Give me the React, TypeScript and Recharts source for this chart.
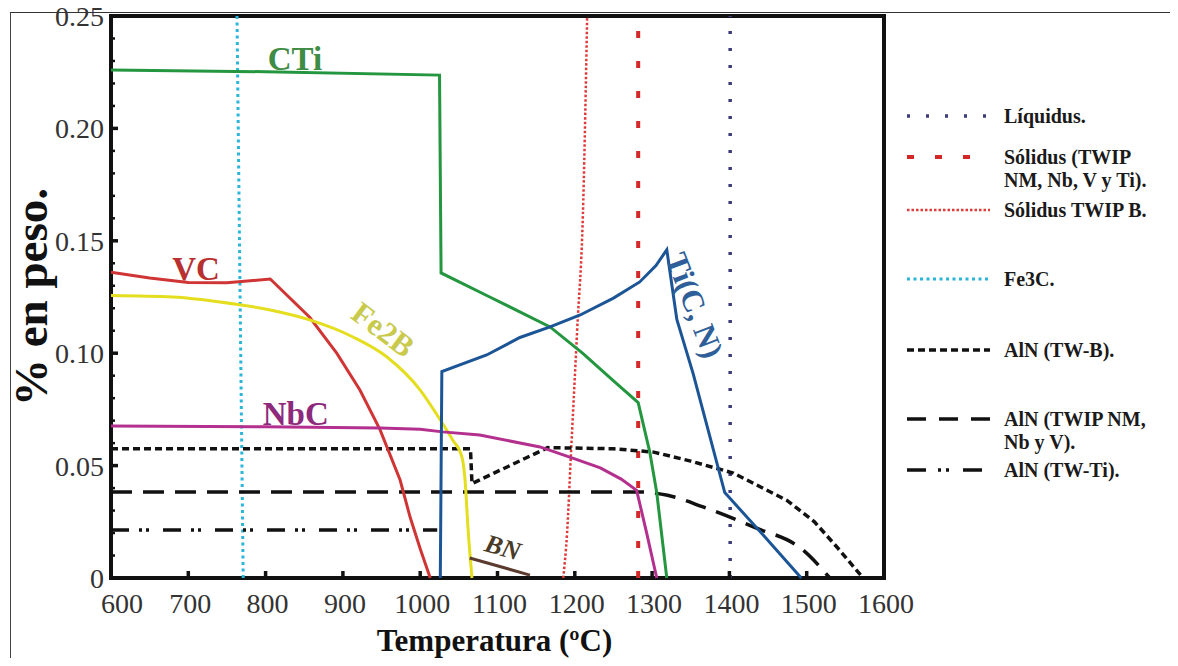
import React from 'react';
import {
  LineChart,
  Line,
  XAxis,
  YAxis,
  ReferenceLine,
  ReferenceArea,
  ReferenceDot,
} from 'recharts';

type Pt = [number, number];

// axis ticks
const xTicks = [600, 700, 800, 900, 1000, 1100, 1200, 1300, 1400, 1500, 1600];
const yTicks = [
  0, 0.01, 0.02, 0.03, 0.04, 0.05, 0.06, 0.07, 0.08, 0.09, 0.1, 0.11, 0.12, 0.13,
  0.14, 0.15, 0.16, 0.17, 0.18, 0.19, 0.2, 0.21, 0.22, 0.23, 0.24, 0.25,
];

// phase curves: [temperature ºC, % en peso]
const cti: Pt[] = [
  [600, 0.226], [800, 0.2252], [1025, 0.2237], [1027, 0.1357], [1090, 0.125],
  [1168, 0.1117], [1210, 0.1], [1249, 0.088], [1282, 0.078], [1297, 0.056],
  [1306, 0.038], [1319, 0],
];
const vc: Pt[] = [
  [600, 0.136], [650, 0.1335], [700, 0.1315], [750, 0.1313], [806, 0.133],
  [857, 0.116], [892, 0.1], [922, 0.0836], [948, 0.066], [974, 0.0436],
  [987, 0.027], [1000, 0.013], [1013, 0],
];
const fe2b: Pt[] = [
  [600, 0.1257], [680, 0.125], [741, 0.1228], [806, 0.1192], [857, 0.1148],
  [913, 0.1072], [957, 0.0983], [1000, 0.0836], [1026, 0.0703], [1042, 0.0614],
  [1054, 0.0538], [1058, 0.0436], [1062, 0.0214], [1067, 0],
];
const nbc: Pt[] = [
  [600, 0.0676], [800, 0.0673], [948, 0.0667], [1000, 0.0662], [1029, 0.065],
  [1077, 0.0636], [1155, 0.0583], [1200, 0.053], [1233, 0.049], [1260, 0.044],
  [1280, 0.039], [1293, 0.02], [1306, 0],
];
const ticn: Pt[] = [
  [1026, 0], [1028, 0.0918], [1086, 0.0992], [1129, 0.107], [1168, 0.1117],
  [1207, 0.117], [1250, 0.1245], [1284, 0.1317], [1305, 0.139], [1319, 0.146],
  [1332, 0.115], [1353, 0.091], [1394, 0.038], [1444, 0.019], [1493, 0],
];
const bn: Pt[] = [[1064, 0.0089], [1142, 0.0013]];
const alnTwB: Pt[] = [
  [600, 0.0575], [1065, 0.0575], [1067, 0.042], [1165, 0.058], [1250, 0.0575],
  [1302, 0.056], [1350, 0.052], [1405, 0.0467], [1474, 0.0346], [1510, 0.025],
  [1539, 0.0138], [1573, 0],
];
const alnNm: Pt[] = [
  [600, 0.0383], [1280, 0.0383], [1320, 0.0368], [1366, 0.0316], [1431, 0.0227],
  [1495, 0.0125], [1530, 0],
];
const alnTi: Pt[] = [[600, 0.0214], [1022, 0.0214]];

// transformation lines
const fe3c: Pt[] = [[771, 0], [763, 0.25]];
const solidusB: Pt[] = [[1185, 0], [1190, 0.02], [1195, 0.055], [1203, 0.11], [1211, 0.168], [1216, 0.25]];
const solidusT = 1282;
const liquidusT = 1401;

// curve labels
const curveLabels: { text: string; t: number; y: number; angle: number; color: string; size: number }[] = [
  { text: 'CTi', t: 838, y: 0.2309, angle: 0, color: '#3f8c45', size: 33 },
  { text: 'VC', t: 710, y: 0.1375, angle: 0, color: '#b8302f', size: 33 },
  { text: 'NbC', t: 839, y: 0.0728, angle: 0, color: '#8d2a7c', size: 33 },
  { text: 'Fe2B', t: 952, y: 0.1105, angle: 37, color: '#c9c94c', size: 31 },
  { text: 'Ti(C, N)', t: 1355, y: 0.1214, angle: 69, color: '#2e5f99', size: 31 },
  { text: 'BN', t: 1107, y: 0.0135, angle: 16, color: '#4a3a28', size: 26 },
];

const COLORS = {
  cti: '#23963f',
  vc: '#d03535',
  fe2b: '#e4de1e',
  nbc: '#b3308e',
  ticn: '#1c5596',
  bn: '#5b3b2e',
  black: '#111',
  cyan: '#2bb5d8',
  red: '#d42828',
  redDot: '#e03a3a',
  navy: '#3c3c7c',
};

const DASH = {
  liquidus: '3 14',
  solidus: '7 23',
  solidusB: '2.5 2',
  fe3c: '3 3.5',
  twB: '7 4',
  nm: '21 11',
  ti: '18 10 3 4 3 14',
};

const legendItems = [
  { lines: ['Líquidus.'], color: COLORS.navy, dash: '3 16', width: 3.5, y: 116 },
  { lines: ['Sólidus (TWIP', 'NM, Nb, V y Ti).'], color: COLORS.red, dash: '7 21', width: 4, y: 157 },
  { lines: ['Sólidus TWIP B.'], color: COLORS.redDot, dash: DASH.solidusB, width: 2.5, y: 210 },
  { lines: ['Fe3C.'], color: COLORS.cyan, dash: DASH.fe3c, width: 3, y: 279 },
  { lines: ['AlN (TW-B).'], color: COLORS.black, dash: DASH.twB, width: 3.5, y: 350 },
  { lines: ['AlN (TWIP NM,', 'Nb y V).'], color: COLORS.black, dash: '19 13', width: 3.5, y: 419 },
  { lines: ['AlN (TW-Ti).'], color: COLORS.black, dash: '19 12 3 5 3 14', width: 3.5, y: 470 },
];

const FONT = '"Liberation Serif", "Times New Roman", Times, serif';
const toRows = (pts: Pt[]) => pts.map(([t, y]) => ({ t, y }));

const YTick = (props: any) => {
  const { x, y, payload } = props;
  const v: number = payload.value;
  const major = Math.round(v * 100) % 5 === 0;
  return (
    <g>
      <line x1={x} x2={x + (major ? 7 : 4)} y1={y} y2={y} stroke={COLORS.black} strokeWidth={major ? 3.5 : 2.5} />
      {major && (
        <text
          x={x - 7}
          y={y}
          dy="0.36em"
          textAnchor="end"
          fill="#333"
          style={{ fontFamily: FONT, fontSize: 28 }}
        >
          {v === 0 ? '0' : v.toFixed(2)}
        </text>
      )}
    </g>
  );
};

const XTick = (props: any) => {
  const { x, y, payload } = props;
  const v: number = payload.value;
  return (
    <g>
      <line x1={x} x2={x} y1={y} y2={y - 7} stroke={COLORS.black} strokeWidth={3.5} />
      <text
        x={x + (v === 600 ? 11 : 2)}
        y={y + 35}
        textAnchor="middle"
        fill="#333"
        style={{ fontFamily: FONT, fontSize: 28 }}
      >
        {v}
      </text>
    </g>
  );
};

function Legend() {
  return (
    <svg width={283} height={520} style={{ position: 'absolute', left: 895, top: 0 }}>
      {legendItems.map((it) => (
        <g key={it.lines[0]}>
          <line
            x1={12}
            x2={95}
            y1={it.y}
            y2={it.y}
            stroke={it.color}
            strokeWidth={it.width}
            strokeDasharray={it.dash}
          />
          {it.lines.map((ln, i) => (
            <text
              key={ln}
              x={109}
              y={it.y + i * 23}
              dy="0.35em"
              fill="#1a1a1a"
              style={{ fontFamily: FONT, fontSize: 20, fontWeight: 'bold' }}
            >
              {ln}
            </text>
          ))}
        </g>
      ))}
    </svg>
  );
}

export default function App() {
  return (
    <div style={{ position: 'relative', width: 1178, height: 666, margin: '-8px 0 -8px -8px' }}>
      <div
        style={{
          position: 'absolute',
          left: 10,
          top: 12,
          width: 1162,
          height: 654,
          borderTop: '1.5px solid #333',
          borderLeft: '1.5px solid #444',
        }}
      />
      <LineChart
        width={1178}
        height={666}
        margin={{ top: 16, right: 294, bottom: 0, left: 0 }}
        style={{ fontFamily: FONT }}
      >
        <XAxis
          type="number"
          dataKey="t"
          domain={[600, 1600]}
          ticks={xTicks}
          interval={0}
          tickLine={false}
          axisLine={false}
          tickSize={0}
          tickMargin={0}
          height={88}
          tick={<XTick />}
          label={{
            content: (p: any) => {
              const vb = p.viewBox || { x: 111, y: 578, width: 773 };
              return (
                <text
                  x={vb.x + vb.width / 2 - 3}
                  y={vb.y + 73}
                  textAnchor="middle"
                  fill="#111"
                  style={{ fontFamily: FONT, fontSize: 31, fontWeight: 'bold' }}
                >
                  Temperatura (ºC)
                </text>
              );
            },
          }}
        />
        <YAxis
          type="number"
          dataKey="y"
          domain={[0, 0.25]}
          ticks={yTicks}
          interval={0}
          tickLine={false}
          axisLine={false}
          tickSize={0}
          tickMargin={0}
          width={111}
          tick={<YTick />}
          label={{
            content: (p: any) => {
              const vb = p.viewBox || { x: 0, y: 16, height: 562 };
              const cx = vb.x + 31;
              const cy = vb.y + vb.height / 2;
              return (
                <text
                  x={cx}
                  y={cy}
                  transform={`rotate(-90 ${cx} ${cy})`}
                  textAnchor="middle"
                  dominantBaseline="central"
                  fill="#111"
                  style={{ fontFamily: FONT, fontSize: 47, fontWeight: 'bold' }}
                >
                  % en peso.
                </text>
              );
            },
          }}
        />

        <ReferenceLine x={liquidusT} stroke={COLORS.navy} strokeWidth={3.5} strokeDasharray={DASH.liquidus} />
        <ReferenceLine x={solidusT} stroke={COLORS.red} strokeWidth={4} strokeDasharray={DASH.solidus} />
        <Line data={toRows(fe3c)} dataKey="y" type="linear" stroke={COLORS.cyan} strokeWidth={3} strokeDasharray={DASH.fe3c} dot={false} activeDot={false} isAnimationActive={false} />
        <Line data={toRows(solidusB)} dataKey="y" type="monotone" stroke={COLORS.redDot} strokeWidth={2.5} strokeDasharray={DASH.solidusB} dot={false} activeDot={false} isAnimationActive={false} />

        <Line data={toRows(alnTwB)} dataKey="y" type="linear" stroke={COLORS.black} strokeWidth={3.5} strokeDasharray={DASH.twB} dot={false} activeDot={false} isAnimationActive={false} />
        <Line data={toRows(alnNm)} dataKey="y" type="monotone" stroke={COLORS.black} strokeWidth={3.5} strokeDasharray={DASH.nm} dot={false} activeDot={false} isAnimationActive={false} />
        <Line data={toRows(alnTi)} dataKey="y" type="linear" stroke={COLORS.black} strokeWidth={3.5} strokeDasharray={DASH.ti} dot={false} activeDot={false} isAnimationActive={false} />

        <Line data={toRows(cti)} dataKey="y" type="linear" stroke={COLORS.cti} strokeWidth={3} dot={false} activeDot={false} isAnimationActive={false} />
        <Line data={toRows(vc)} dataKey="y" type="linear" stroke={COLORS.vc} strokeWidth={3} dot={false} activeDot={false} isAnimationActive={false} />
        <Line data={toRows(fe2b)} dataKey="y" type="monotone" stroke={COLORS.fe2b} strokeWidth={3} dot={false} activeDot={false} isAnimationActive={false} />
        <Line data={toRows(nbc)} dataKey="y" type="linear" stroke={COLORS.nbc} strokeWidth={3} dot={false} activeDot={false} isAnimationActive={false} />
        <Line data={toRows(ticn)} dataKey="y" type="linear" stroke={COLORS.ticn} strokeWidth={3} dot={false} activeDot={false} isAnimationActive={false} />
        <Line data={toRows(bn)} dataKey="y" type="linear" stroke={COLORS.bn} strokeWidth={3} dot={false} activeDot={false} isAnimationActive={false} />

        <ReferenceArea x1={600} x2={1600} y1={0} y2={0.25} fill="none" stroke={COLORS.black} strokeWidth={4} />

        {curveLabels.map((l) => (
          <ReferenceDot
            key={l.text}
            x={l.t}
            y={l.y}
            r={1}
            shape={(p: any) => (
              <text
                x={p.cx}
                y={p.cy}
                transform={`rotate(${l.angle} ${p.cx} ${p.cy})`}
                textAnchor="middle"
                dominantBaseline="central"
                fill={l.color}
                style={{
                  fontFamily: FONT,
                  fontSize: l.size,
                  fontWeight: 'bold',
                  fontStyle: l.text === 'BN' ? 'italic' : 'normal',
                }}
              >
                {l.text}
              </text>
            )}
          />
        ))}
      </LineChart>
      <Legend />
    </div>
  );
}
